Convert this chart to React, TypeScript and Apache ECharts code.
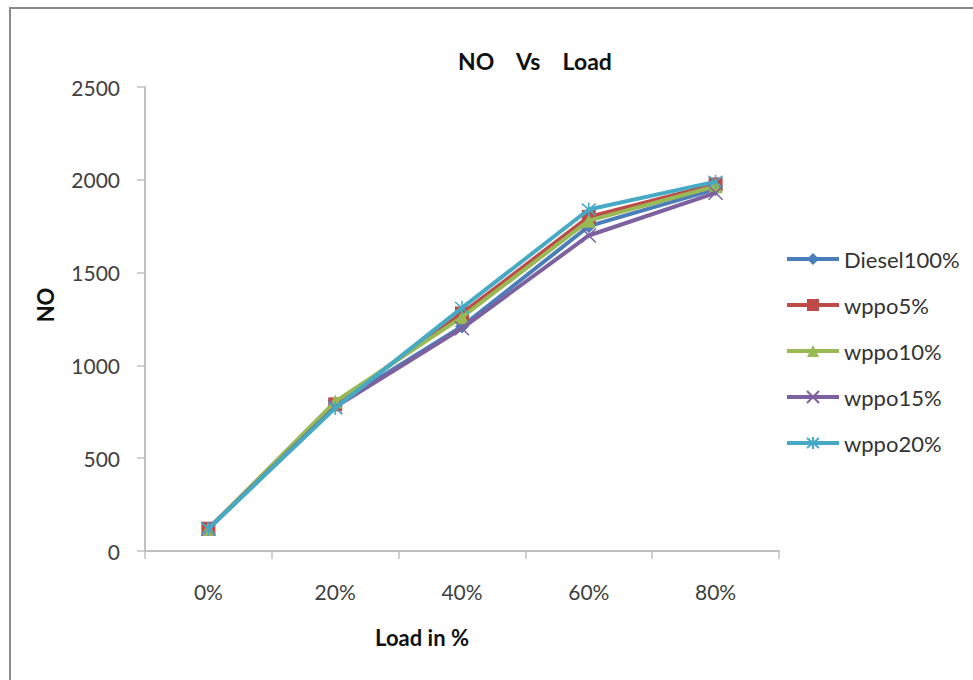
import React, { useEffect, useRef } from "react";
import * as echarts from "echarts";

const categories = ["0%", "20%", "40%", "60%", "80%"];
const seriesNames = ["Diesel100%", "wppo5%", "wppo10%", "wppo15%", "wppo20%"];
const diesel = [120, 785, 1210, 1750, 1950];
const wppo5 = [120, 790, 1280, 1800, 1975];
const wppo10 = [120, 805, 1260, 1780, 1965];
const wppo15 = [120, 775, 1200, 1700, 1930];
const wppo20 = [120, 770, 1310, 1840, 1990];
const yTicks = { min: 0, max: 2500, interval: 500 };

const colors = ["#4a7ebb", "#be4b48", "#98b954", "#7d60a0", "#46aac5"];
const symbols = [
  "diamond",
  "rect",
  "triangle",
  "path://M0,0L10,10M10,0L0,10",
  "path://M0,0L10,10M10,0L0,10M5,-1L5,11",
];
const FONT = "Lato";

export default function App() {
  const ref = useRef<HTMLDivElement>(null);
  useEffect(() => {
    if (!ref.current) return;
    const chart = echarts.init(ref.current, null, { renderer: "svg" });
    const values = [diesel, wppo5, wppo10, wppo15, wppo20];
    const series = values.map((v, i) => {
      const stroked = i >= 3;
      return {
        name: seriesNames[i],
        type: "line",
        data: v,
        symbol: symbols[i],
        symbolSize: 14,
        showAllSymbol: true,
        lineStyle: { color: colors[i], width: 4 },
        itemStyle: {
          color: colors[i],
          borderColor: colors[i],
          borderWidth: stroked ? 1.5 : 0,
        },
        z: 2 + i,
      };
    });
    chart.setOption({
      animation: false,
      backgroundColor: "#ffffff",
      color: colors,
      grid: { left: 145, top: 87, width: 634, height: 464, containLabel: false },
      xAxis: {
        type: "category",
        data: categories,
        boundaryGap: true,
        axisLine: { show: true, lineStyle: { color: "#c0c0c0", width: 2 } },
        axisTick: { show: true, length: 8, lineStyle: { color: "#c0c0c0", width: 1.5 } },
        axisLabel: { color: "#404040", fontSize: 21, fontFamily: FONT, margin: 30 },
        splitLine: { show: false },
      },
      yAxis: {
        type: "value",
        min: yTicks.min,
        max: yTicks.max,
        interval: yTicks.interval,
        axisLine: { show: true, lineStyle: { color: "#c0c0c0", width: 2 } },
        axisTick: { show: true, length: 8, lineStyle: { color: "#c0c0c0", width: 1.5 } },
        axisLabel: {
          color: "#404040",
          fontSize: 21,
          fontFamily: FONT,
          margin: 25,
          formatter: (v: number) => String(v),
        },
        splitLine: { show: false },
      },
      legend: {
        orient: "vertical",
        left: 785,
        top: 248,
        padding: 0,
        itemWidth: 52,
        itemHeight: 15,
        itemGap: 24,
        data: seriesNames,
        lineStyle: { width: 4 },
        textStyle: { color: "#333333", fontSize: 22, fontFamily: FONT, lineHeight: 22 },
      },
      graphic: [
        {
          type: "rect",
          shape: { x: 10, y: 8, width: 1200, height: 900 },
          style: { fill: "none", stroke: "#8a8a8a", lineWidth: 2 },
          silent: true,
        },
        {
          type: "text",
          x: 535,
          y: 61,
          style: {
            text: "NO    Vs    Load",
            fontFamily: FONT,
            fontWeight: "bold",
            fontSize: 23,
            fill: "#111111",
            textAlign: "center",
            textVerticalAlign: "middle",
          },
        },
        {
          type: "text",
          x: 45,
          y: 305,
          rotation: Math.PI / 2,
          style: {
            text: "NO",
            fontFamily: FONT,
            fontWeight: "bold",
            fontSize: 22,
            fill: "#111111",
            textAlign: "center",
            textVerticalAlign: "middle",
          },
        },
        {
          type: "text",
          x: 422,
          y: 637,
          style: {
            text: "Load in %",
            fontFamily: FONT,
            fontWeight: "bold",
            fontSize: 22,
            fill: "#111111",
            textAlign: "center",
            textVerticalAlign: "middle",
          },
        },
      ],
      series,
    });
    return () => chart.dispose();
  }, []);
  return (
    <div
      ref={ref}
      style={{ position: "fixed", left: 0, top: 0, width: 973, height: 680 }}
    />
  );
}
